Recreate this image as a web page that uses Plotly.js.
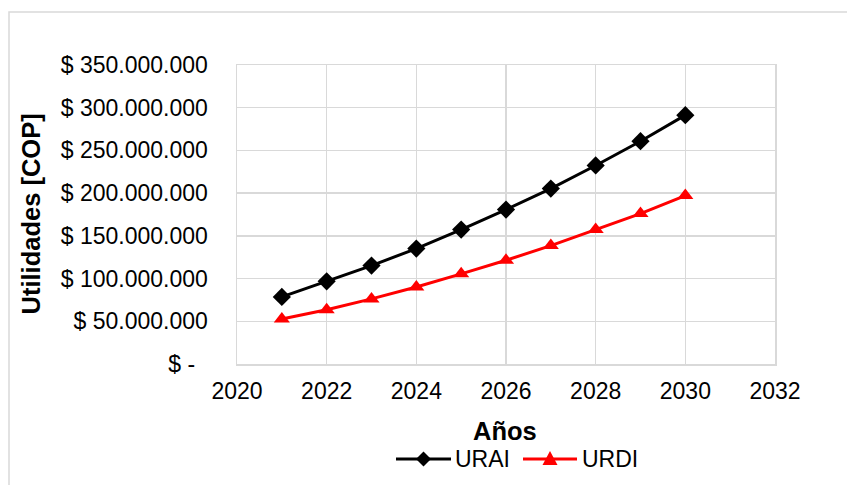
<!DOCTYPE html>
<html><head><meta charset="utf-8">
<script src="https://cdn.plot.ly/plotly-3.0.1.min.js"></script>
<style>html,body{margin:0;padding:0;background:#fff;}#chart{width:847px;height:485px;}</style>
</head><body><div id="chart"></div>
<script>
const years = [2021, 2022, 2023, 2024, 2025, 2026, 2027, 2028, 2029, 2030];
const urai = [78500000, 96800000, 115200000, 135100000, 157400000, 180800000, 205400000, 232400000, 260800000, 291300000];
const urdi = [52700000, 63600000, 76200000, 90200000, 105500000, 121400000, 138600000, 157400000, 176100000, 197200000];
const xTickVals = [2020, 2022, 2024, 2026, 2028, 2030, 2032];
const yTickVals = [0, 50000000, 100000000, 150000000, 200000000, 250000000, 300000000, 350000000];
const yTickText = ['$ -\u00A0\u00A0', '$ 50.000.000', '$ 100.000.000', '$ 150.000.000', '$ 200.000.000', '$ 250.000.000', '$ 300.000.000', '$ 350.000.000'];
const seriesNames = ['URAI', 'URDI'];

const font = 'Liberation Sans, Arial, sans-serif';
const L = 237, R = 775, T = 65, B = 364, W = 847, H = 485;
const px = x => (x - L) / (R - L);
const py = y => (B - y) / (B - T);

const traces = [
  {x: years, y: urai, name: seriesNames[0], type: 'scatter', mode: 'lines+markers', cliponaxis: false,
   line: {color: '#000000', width: 3}, marker: {symbol: 'diamond', size: 14, color: '#000000'}},
  {x: years, y: urdi, name: seriesNames[1], type: 'scatter', mode: 'lines+markers', cliponaxis: false,
   line: {color: '#ff0000', width: 3}, marker: {symbol: 'triangle-up', size: 14, color: '#ff0000'}}
];

const legY = 459;
const shapes = [
  {type: 'rect', xref: 'paper', yref: 'paper', x0: px(9), x1: px(900), y0: py(600), y1: py(12),
   line: {color: '#d9d9d9', width: 1.5}, fillcolor: 'rgba(0,0,0,0)', layer: 'below'},
  {type: 'line', xref: 'paper', yref: 'paper', x0: px(396), x1: px(451), y0: py(legY), y1: py(legY),
   line: {color: '#000000', width: 3}},
  {type: 'path', xref: 'paper', yref: 'paper', fillcolor: '#000000', line: {width: 0},
   path: `M${px(423.5)},${py(legY-7.5)} L${px(431)},${py(legY)} L${px(423.5)},${py(legY+7.5)} L${px(416)},${py(legY)} Z`},
  {type: 'line', xref: 'paper', yref: 'paper', x0: px(523), x1: px(577), y0: py(legY), y1: py(legY),
   line: {color: '#ff0000', width: 3}},
  {type: 'path', xref: 'paper', yref: 'paper', fillcolor: '#ff0000', line: {width: 0},
   path: `M${px(550)},${py(legY-8)} L${px(557.5)},${py(legY+6)} L${px(542.5)},${py(legY+6)} Z`}
];

const annotations = [
  {text: '<b>Utilidades [COP]</b>', xref: 'paper', yref: 'paper', x: px(30), y: py(214.5), textangle: -90,
   showarrow: false, xanchor: 'center', yanchor: 'middle', font: {family: font, size: 25.5, color: '#000'}},
  {text: '<b>Años</b>', xref: 'paper', yref: 'paper', x: px(505), y: py(431),
   showarrow: false, xanchor: 'center', yanchor: 'middle', font: {family: font, size: 25.5, color: '#000'}},
  {text: seriesNames[0], xref: 'paper', yref: 'paper', x: px(453), y: py(legY),
   showarrow: false, xanchor: 'left', yanchor: 'middle', font: {family: font, size: 23, color: '#000'}},
  {text: seriesNames[1], xref: 'paper', yref: 'paper', x: px(580), y: py(legY),
   showarrow: false, xanchor: 'left', yanchor: 'middle', font: {family: font, size: 23, color: '#000'}}
];

const layout = {
  width: W, height: H,
  margin: {l: L, r: W - R, t: T, b: H - B},
  paper_bgcolor: '#ffffff', plot_bgcolor: '#ffffff',
  font: {family: font, size: 23, color: '#000000'},
  showlegend: false,
  xaxis: {range: [2020, 2032], tickvals: xTickVals, automargin: false,
          showgrid: true, gridcolor: '#d9d9d9', gridwidth: 1.5, zeroline: false,
          showline: true, linecolor: '#d9d9d9', linewidth: 1.5, mirror: true,
          ticks: '', ticklabelstandoff: 6, tickfont: {family: font, size: 23}},
  yaxis: {range: [0, 350000000], tickvals: yTickVals, ticktext: yTickText, automargin: false,
          showgrid: true, gridcolor: '#d9d9d9', gridwidth: 1.5, zeroline: false,
          showline: true, linecolor: '#d9d9d9', linewidth: 1.5, mirror: true,
          ticks: '', ticklabelstandoff: 23, tickfont: {family: font, size: 23}},
  shapes: shapes,
  annotations: annotations
};
Plotly.newPlot('chart', traces, layout, {displayModeBar: false, staticPlot: true});
</script></body></html>
